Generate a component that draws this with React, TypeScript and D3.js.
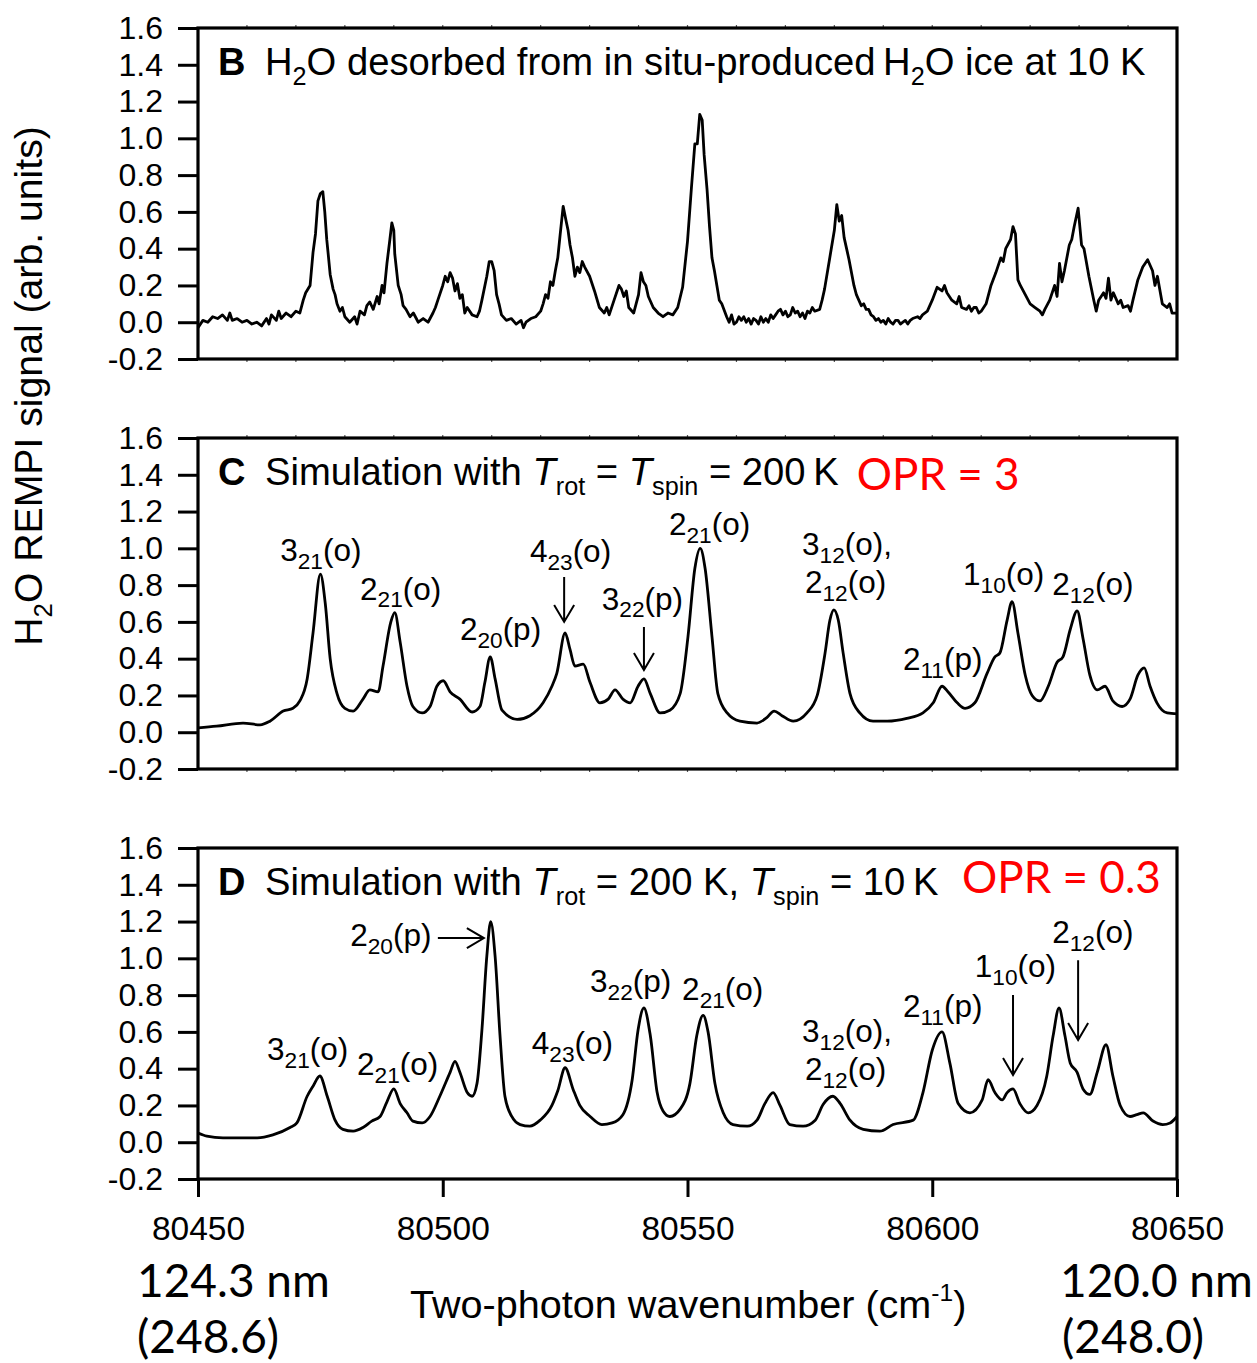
import React, { useEffect, useRef } from 'react';
import * as d3 from 'd3';

// wavenumber (cm-1), signal
const specB: [number, number][] = [
  [80450, -0.03], [80451, 0.01], [80452, 0.0], [80453, 0.03], [80454, 0.02], [80455, 0.04], [80456, 0.01],
  [80456.5, 0.05], [80457, 0.01], [80458, 0.02], [80459, 0.0], [80460, 0.01], [80461, -0.01], [80462, 0.0],
  [80463, -0.02], [80464, 0.02], [80464.5, -0.01], [80465, 0.04], [80466, 0.01], [80466.5, 0.06], [80467, 0.02],
  [80468, 0.05], [80469, 0.03], [80470, 0.06], [80470.8, 0.05], [80471.5, 0.12], [80472, 0.16], [80472.9, 0.2],
  [80473.5, 0.38], [80474, 0.48], [80474.5, 0.66], [80475, 0.7], [80475.5, 0.71], [80475.9, 0.6], [80476.3, 0.45],
  [80476.6, 0.37], [80477, 0.26], [80477.6, 0.18], [80478, 0.15], [80478.4, 0.1], [80479, 0.06], [80479.5, 0.08],
  [80480, 0.03], [80481, 0.0], [80482, 0.03], [80482.5, -0.01], [80483.1, 0.06], [80484, 0.04], [80484.5, 0.09],
  [80485.1, 0.11], [80485.8, 0.07], [80486.6, 0.14], [80487, 0.1], [80487.6, 0.2], [80488, 0.16], [80488.6, 0.32],
  [80489.2, 0.45], [80489.6, 0.54], [80490, 0.5], [80490.2, 0.37], [80490.9, 0.2], [80491.5, 0.15], [80491.9, 0.09],
  [80492.5, 0.07], [80493.3, 0.03], [80494, 0.05], [80495, 0.0], [80496, 0.02], [80497, 0.0], [80498, 0.05],
  [80498.5, 0.08], [80499, 0.12], [80500, 0.2], [80500.5, 0.25], [80501, 0.22], [80501.5, 0.27], [80502, 0.24],
  [80502.5, 0.17], [80503, 0.21], [80503.5, 0.13], [80504, 0.15], [80504.5, 0.05], [80505, 0.08], [80506, 0.04],
  [80507, 0.03], [80507.5, 0.06], [80508, 0.12], [80509, 0.25], [80509.5, 0.33], [80510, 0.33], [80510.5, 0.28],
  [80511, 0.15], [80511.5, 0.1], [80512, 0.04], [80513, 0.01], [80514, 0.02], [80515, -0.01], [80516, 0.01],
  [80516.5, -0.03], [80517, 0.0], [80518, 0.02], [80519, 0.03], [80520, 0.06], [80520.5, 0.1], [80521, 0.15],
  [80521.5, 0.13], [80522, 0.22], [80522.5, 0.2], [80523, 0.28], [80523.5, 0.35], [80524, 0.48], [80524.6, 0.63],
  [80525.2, 0.55], [80525.6, 0.5], [80526, 0.42], [80526.5, 0.35], [80527, 0.25], [80527.5, 0.3], [80528, 0.27],
  [80528.5, 0.33], [80529, 0.3], [80530, 0.25], [80531, 0.17], [80532, 0.08], [80533, 0.05], [80533.5, 0.08],
  [80534, 0.04], [80535, 0.12], [80536, 0.2], [80536.5, 0.18], [80537, 0.14], [80537.5, 0.17], [80538, 0.08],
  [80539, 0.05], [80539.5, 0.1], [80540, 0.15], [80540.5, 0.27], [80541, 0.22], [80541.5, 0.2], [80542, 0.14],
  [80543, 0.08], [80544, 0.05], [80545, 0.03], [80546, 0.05], [80547, 0.04], [80548, 0.08], [80549, 0.19],
  [80550, 0.44], [80550.8, 0.73], [80551.5, 0.97], [80552, 0.97], [80552.5, 1.13], [80553, 1.1], [80553.4, 0.91],
  [80554, 0.72], [80554.5, 0.52], [80555, 0.35], [80555.5, 0.28], [80556, 0.2], [80556.5, 0.12], [80557, 0.1],
  [80558, 0.03], [80558.5, 0.0], [80559, 0.04], [80559.5, -0.01], [80560, 0.0], [80560.5, 0.03], [80561, 0.01],
  [80561.5, 0.03], [80562, 0.0], [80562.5, 0.02], [80563, -0.01], [80563.5, 0.02], [80564, 0.01], [80564.5, -0.01],
  [80565, 0.03], [80565.5, 0.0], [80566, 0.02], [80566.5, 0.0], [80567, 0.04], [80567.5, 0.02], [80568, 0.04],
  [80568.5, 0.06], [80569, 0.07], [80569.5, 0.04], [80570, 0.06], [80570.5, 0.03], [80571, 0.04], [80571.5, 0.08],
  [80572, 0.05], [80572.5, 0.06], [80573, 0.03], [80573.5, 0.05], [80574, 0.02], [80574.5, 0.06], [80575, 0.05],
  [80575.5, 0.08], [80576, 0.06], [80577, 0.07], [80577.5, 0.12],
  [80578, 0.18], [80579, 0.34], [80580, 0.5], [80580.5, 0.64], [80581, 0.55], [80581.5, 0.58], [80582, 0.46],
  [80582.5, 0.4], [80583, 0.34], [80584, 0.2], [80584.5, 0.15], [80585, 0.12], [80585.5, 0.09], [80586, 0.1],
  [80586.5, 0.07], [80587, 0.07], [80587.5, 0.04], [80588, 0.03], [80588.5, 0.01], [80589, 0.02], [80589.5, 0.0],
  [80590, 0.01], [80590.5, -0.01], [80591, 0.02], [80591.5, 0.0], [80592, -0.01], [80592.5, 0.01], [80593, 0.01],
  [80593.5, -0.01], [80594, 0.0], [80594.5, 0.01], [80595, -0.01], [80595.5, 0.01],
  [80596, 0.02], [80597, 0.03], [80597.5, 0.02], [80598, 0.04], [80599, 0.06], [80600, 0.12], [80601, 0.19], [80602, 0.17],
  [80602.5, 0.2], [80603, 0.16], [80604, 0.12], [80605, 0.1], [80605.5, 0.14], [80606, 0.08], [80607, 0.07],
  [80607.5, 0.09], [80608, 0.06], [80608.5, 0.08], [80609, 0.08], [80609.5, 0.05], [80610, 0.06], [80611, 0.1],
  [80612, 0.2], [80613, 0.27], [80614, 0.35],
  [80614.5, 0.33], [80615, 0.4], [80616, 0.45], [80616.5, 0.52], [80617, 0.48], [80617.5, 0.23], [80618, 0.2],
  [80619, 0.15], [80620, 0.1], [80621, 0.08], [80622, 0.06], [80622.5, 0.04], [80623, 0.07], [80624, 0.12],
  [80625, 0.2], [80625.5, 0.14], [80626, 0.32], [80626.5, 0.22], [80627, 0.28], [80628, 0.42], [80628.5, 0.45],
  [80629, 0.52], [80629.8, 0.62], [80630.5, 0.42], [80631, 0.4], [80632, 0.25], [80633, 0.12], [80633.5, 0.06],
  [80634, 0.12], [80635, 0.16], [80635.5, 0.13], [80636, 0.24], [80636.5, 0.12], [80637, 0.16], [80638, 0.1],
  [80638.5, 0.12], [80639, 0.08], [80640, 0.09], [80640.5, 0.06], [80641, 0.12], [80642, 0.23], [80643, 0.3],
  [80644, 0.34], [80645, 0.28], [80645.5, 0.2], [80646, 0.25], [80647, 0.1], [80648, 0.08], [80648.5, 0.1],
  [80649, 0.05], [80650, 0.05],
];

const specC: [number, number][] = [
  [80450, 0.024], [80453.8, 0.033], [80459.2, 0.05], [80462.7, 0.04], [80464.7, 0.06], [80467.4, 0.115],
  [80469.4, 0.13], [80470.8, 0.17], [80472.3, 0.29], [80473.5, 0.54], [80475, 0.86], [80476, 0.7],
  [80477, 0.4], [80478.4, 0.21], [80480, 0.13], [80481.7, 0.115], [80483.7, 0.18], [80485.1, 0.23],
  [80486.8, 0.22], [80487.8, 0.36], [80489.4, 0.6], [80490.2, 0.65], [80491.3, 0.49], [80492.7, 0.25],
  [80493.9, 0.14], [80495.8, 0.105], [80497.4, 0.14], [80498.8, 0.25], [80500.1, 0.28], [80501.5, 0.22],
  [80503.5, 0.18], [80506, 0.11], [80507.6, 0.14], [80508.6, 0.27], [80509.7, 0.41], [80510.7, 0.29],
  [80512.1, 0.12], [80515.2, 0.07], [80517.8, 0.09], [80520.5, 0.16], [80522.3, 0.25], [80523.3, 0.32],
  [80525, 0.54], [80526, 0.45], [80527, 0.36], [80528.7, 0.37], [80530.1, 0.27], [80532.1, 0.16],
  [80533.8, 0.18], [80535.2, 0.23], [80536.8, 0.18], [80538.3, 0.16], [80539.9, 0.25], [80541.1, 0.29],
  [80542.4, 0.21], [80544.4, 0.105], [80546.4, 0.12], [80548.5, 0.21], [80550.1, 0.52], [80551.5, 0.89],
  [80552.6, 1.0], [80553.6, 0.89], [80555, 0.52], [80556.2, 0.21], [80558.1, 0.105], [80560.7, 0.06],
  [80564.2, 0.05], [80566.2, 0.08], [80567.7, 0.115], [80569.3, 0.09], [80571.6, 0.06], [80574.4, 0.105],
  [80576.5, 0.2], [80578.1, 0.43], [80579.1, 0.61], [80579.9, 0.665], [80580.8, 0.61], [80581.8, 0.43],
  [80583.2, 0.21], [80585.2, 0.105], [80587.9, 0.06], [80590.8, 0.06], [80594.8, 0.075], [80598.1, 0.105],
  [80600.2, 0.16], [80602, 0.25], [80603.2, 0.22], [80605.1, 0.16], [80606.7, 0.13], [80608.7, 0.16],
  [80611.2, 0.32], [80612.8, 0.41], [80613.8, 0.43], [80615.3, 0.61], [80616.3, 0.71], [80617.5, 0.54],
  [80619, 0.31], [80620.4, 0.2], [80622, 0.17], [80623.7, 0.25], [80625.5, 0.38], [80626.7, 0.41],
  [80628.2, 0.56], [80629.6, 0.66], [80630.8, 0.51], [80632.2, 0.31], [80633.7, 0.23], [80635.3, 0.25],
  [80636.9, 0.17], [80638.8, 0.14], [80640.4, 0.18], [80642, 0.31], [80643.3, 0.35], [80644.5, 0.25],
  [80645.9, 0.16], [80648, 0.105], [80650, 0.1],
];

const specD: [number, number][] = [
  [80450, 0.05], [80451.8, 0.033], [80455.1, 0.024], [80462.1, 0.024], [80465.3, 0.04], [80468.8, 0.08],
  [80470.2, 0.105], [80472.3, 0.25], [80473.5, 0.305], [80474.9, 0.36], [80476.4, 0.25], [80478, 0.12],
  [80479.6, 0.07], [80481.7, 0.06], [80483.7, 0.08], [80485.5, 0.115], [80487.2, 0.14], [80488.6, 0.22],
  [80490, 0.29], [80491.3, 0.21], [80492.7, 0.16], [80493.9, 0.115], [80495.8, 0.105], [80497.4, 0.14],
  [80499.4, 0.25], [80501.5, 0.38], [80502.5, 0.44], [80503.5, 0.38], [80505, 0.27], [80506, 0.25],
  [80507, 0.32], [80508, 0.61], [80509, 1.01], [80509.8, 1.2], [80510.7, 1.01], [80511.7, 0.58],
  [80512.7, 0.25], [80514.1, 0.14], [80515.8, 0.096], [80517.8, 0.087], [80519.9, 0.12], [80522.3, 0.2],
  [80523.5, 0.28], [80525, 0.405], [80526.6, 0.29], [80528, 0.2], [80530.1, 0.14], [80532.5, 0.096],
  [80534.6, 0.105], [80536.8, 0.15], [80538.7, 0.34], [80539.9, 0.61], [80541.1, 0.73], [80542.4, 0.58],
  [80543.8, 0.27], [80545, 0.17], [80546.4, 0.14], [80548.5, 0.18], [80550.5, 0.32], [80551.9, 0.58],
  [80553.2, 0.69], [80554.2, 0.6], [80555.6, 0.32], [80557.3, 0.16], [80559.3, 0.096], [80562.2, 0.087],
  [80564.2, 0.12], [80565.8, 0.21], [80567.5, 0.27], [80568.9, 0.2], [80570.9, 0.096], [80573.6, 0.087],
  [80576.1, 0.12], [80577.7, 0.205], [80579.7, 0.25], [80581.2, 0.21], [80583.2, 0.12], [80585.9, 0.07],
  [80589.3, 0.06], [80592, 0.096], [80596.1, 0.12], [80598.1, 0.27], [80600, 0.5], [80602, 0.6],
  [80603.6, 0.43], [80605.3, 0.21], [80607.7, 0.16], [80610.2, 0.23], [80611.4, 0.34], [80612.8, 0.27],
  [80614.3, 0.23], [80615.3, 0.27], [80616.5, 0.29], [80617.9, 0.21], [80619.6, 0.16], [80621.4, 0.2],
  [80623.4, 0.36], [80624.7, 0.58], [80625.9, 0.73], [80627.1, 0.58], [80628.2, 0.43], [80629.6, 0.38],
  [80630.8, 0.29], [80632.2, 0.26], [80633.7, 0.38], [80635.5, 0.53], [80636.9, 0.36], [80638.4, 0.2],
  [80640.4, 0.14], [80641.8, 0.15], [80643.1, 0.16], [80645.1, 0.115], [80647.1, 0.096], [80648.6, 0.105],
  [80650, 0.14],
];

const xTicks = [80450, 80500, 80550, 80600, 80650];
const yTicks = [-0.2, 0, 0.2, 0.4, 0.6, 0.8, 1.0, 1.2, 1.4, 1.6];

// state labels: level, subscript, symmetry; x/y in data units (start, baseline)
const labelsC = [
  { x: 80466.8, y: 0.93, n: '3', s: '21', p: '(o)' },
  { x: 80483.1, y: 0.72, n: '2', s: '21', p: '(o)' },
  { x: 80503.5, y: 0.5, n: '2', s: '20', p: '(p)' },
  { x: 80517.8, y: 0.925, n: '4', s: '23', p: '(o)' },
  { x: 80532.5, y: 0.665, n: '3', s: '22', p: '(p)' },
  { x: 80546.2, y: 1.072, n: '2', s: '21', p: '(o)' },
  { x: 80573.4, y: 0.963, n: '3', s: '12', p: '(o),' },
  { x: 80574.0, y: 0.757, n: '2', s: '12', p: '(o)' },
  { x: 80594.0, y: 0.338, n: '2', s: '11', p: '(p)' },
  { x: 80606.3, y: 0.8, n: '1', s: '10', p: '(o)' },
  { x: 80624.5, y: 0.746, n: '2', s: '12', p: '(o)' },
];
const arrowsC = [
  { x1: 80524.8, y1: 0.844, x2: 80524.8, y2: 0.6 },
  { x1: 80541.1, y1: 0.572, x2: 80541.1, y2: 0.338 },
];

const labelsD = [
  { x: 80464.1, y: 0.447, n: '3', s: '21', p: '(o)' },
  { x: 80482.5, y: 0.365, n: '2', s: '21', p: '(o)' },
  { x: 80481.1, y: 1.067, n: '2', s: '20', p: '(p)' },
  { x: 80518.2, y: 0.48, n: '4', s: '23', p: '(o)' },
  { x: 80530.1, y: 0.817, n: '3', s: '22', p: '(p)' },
  { x: 80548.9, y: 0.773, n: '2', s: '21', p: '(o)' },
  { x: 80573.4, y: 0.545, n: '3', s: '12', p: '(o),' },
  { x: 80574.0, y: 0.338, n: '2', s: '12', p: '(o)' },
  { x: 80594.0, y: 0.68, n: '2', s: '11', p: '(p)' },
  { x: 80608.7, y: 0.898, n: '1', s: '10', p: '(o)' },
  { x: 80624.5, y: 1.083, n: '2', s: '12', p: '(o)' },
];
const arrowsD = [
  { x1: 80499.0, y1: 1.11, x2: 80508.4, y2: 1.11 },
  { x1: 80616.5, y1: 0.8, x2: 80616.5, y2: 0.365 },
  { x1: 80629.8, y1: 0.99, x2: 80629.8, y2: 0.556 },
];

const SANS = "'Liberation Sans', Arial, Helvetica, sans-serif";
const CAL = "Lato, 'Open Sans', sans-serif";

type Part = { t: string; sub?: boolean; sup?: boolean; it?: boolean; b?: boolean };

function rich(sel: any, x: number, y: number, parts: Part[], size: number, o: any = {}) {
  const t = sel.append('text')
    .attr('x', x).attr('y', y)
    .attr('font-family', o.family || SANS)
    .attr('font-size', size)
    .attr('fill', o.fill || '#000')
    .attr('text-anchor', o.anchor || 'start')
    .style('white-space', 'pre');
  if (o.transform) t.attr('transform', o.transform);
  let shift = 0;
  parts.forEach(p => {
    const target = p.sub ? size * (o.subShift ?? 0.24) : p.sup ? -size * 0.42 : 0;
    const ts = t.append('tspan').text(p.t);
    if (target !== shift) ts.attr('dy', target - shift);
    shift = target;
    if (p.sub || p.sup) ts.attr('font-size', size * (o.subScale ?? 0.7));
    if (p.it) ts.attr('font-style', 'italic');
    if (p.b) ts.attr('font-weight', 'bold');
  });
  return t;
}

const App = () => {
  const svgRef = useRef<SVGSVGElement>(null);
  const width = 1257, height = 1363;

  useEffect(() => {
    if (!svgRef.current) return;
    const svg = d3.select(svgRef.current);
    svg.selectAll('*').remove();

    const left = 198, right = 1177, ph = 331;
    const tops = [28, 438, 848];
    const x = d3.scaleLinear().domain([80450, 80650]).range([left, right]);

    const panels = [
      {
        data: specB, letter: 'B', curve: d3.curveLinear,
        title: [{ t: 'H' }, { t: '2', sub: true }, { t: 'O desorbed from in situ-produced\u2009H' }, { t: '2', sub: true }, { t: 'O ice at 10 K' }],
        opr: '', labels: [], arrows: [], oprX: 0, oprY: 0,
      },
      {
        data: specC, letter: 'C', curve: d3.curveMonotoneX,
        title: [{ t: 'Simulation with ' }, { t: 'T', it: true }, { t: 'rot', sub: true }, { t: ' = ' }, { t: 'T', it: true }, { t: 'spin', sub: true }, { t: ' = 200\u2009K' }],
        opr: 'OPR = 3', labels: labelsC, arrows: arrowsC, oprX: 80584.6, oprY: 1.317,
      },
      {
        data: specD, letter: 'D', curve: d3.curveMonotoneX,
        title: [{ t: 'Simulation with ' }, { t: 'T', it: true }, { t: 'rot', sub: true }, { t: ' = 200 K, ' }, { t: 'T', it: true }, { t: 'spin', sub: true }, { t: ' = 10\u2009K' }],
        opr: 'OPR = 0.3', labels: labelsD, arrows: arrowsD, oprX: 80606.1, oprY: 1.355,
      },
    ];

    panels.forEach((pn, i) => {
      const top = tops[i];
      const y = d3.scaleLinear().domain([-0.2, 1.6]).range([top + ph, top]);
      const g = svg.append('g');

      // y axis
      const yAxis = g.append('g')
        .attr('transform', `translate(${left},0)`)
        .call(d3.axisLeft(y).tickValues(yTicks).tickSize(20).tickPadding(15).tickFormat((d: any) => (+d).toFixed(1)));
      yAxis.select('.domain').remove();
      yAxis.selectAll('line').attr('stroke', '#000').attr('stroke-width', 3);
      yAxis.selectAll('text').attr('font-family', SANS).attr('font-size', 32).attr('fill', '#000');

      // minor ticks on top/bottom
      if (i < 2) {
        const minor = d3.range(80460, 80650, 10);
        g.selectAll('.mt').data(minor).join('line')
          .attr('x1', d => x(d)).attr('x2', d => x(d))
          .attr('y1', top - 3).attr('y2', top)
          .attr('stroke', '#555').attr('stroke-width', 1.2);
        g.selectAll('.mb').data(minor).join('line')
          .attr('x1', d => x(d)).attr('x2', d => x(d))
          .attr('y1', top + ph).attr('y2', top + ph + 3)
          .attr('stroke', '#555').attr('stroke-width', 1.2);
      }

      // x axis on last panel
      if (i === 2) {
        const xAxis = g.append('g')
          .attr('transform', `translate(0,${top + ph})`)
          .call(d3.axisBottom(x).tickValues(xTicks).tickSize(18).tickPadding(19).tickFormat((d: any) => String(d)));
        xAxis.select('.domain').remove();
        xAxis.selectAll('line').attr('stroke', '#000').attr('stroke-width', 3);
        xAxis.selectAll('text').attr('font-family', SANS).attr('font-size', 33.5).attr('fill', '#000');
      }

      // spectrum
      const line = d3.line<[number, number]>()
        .x(d => x(d[0])).y(d => y(d[1])).curve(pn.curve);
      g.append('path')
        .datum(pn.data)
        .attr('d', line as any)
        .attr('fill', 'none')
        .attr('stroke', '#000')
        .attr('stroke-width', 2.8)
        .attr('stroke-linejoin', 'round');

      // frame
      g.append('rect')
        .attr('x', left).attr('y', top)
        .attr('width', right - left).attr('height', ph)
        .attr('fill', 'none').attr('stroke', '#000').attr('stroke-width', 3.2);

      // title
      const ty = top + 47;
      rich(g, 218, ty, [{ t: pn.letter, b: true }], 38);
      rich(g, 265, ty, pn.title as Part[], 38.2, { subScale: 0.66, subShift: 0.25 });
      if (pn.opr) {
        rich(g, x(pn.oprX), y(pn.oprY), [{ t: pn.opr }], 44, { family: CAL, fill: '#ff0000' });
      }

      // state labels
      pn.labels.forEach((l: any) => {
        rich(g, x(l.x), y(l.y), [{ t: l.n }, { t: l.s, sub: true }, { t: l.p }], 31.5, { subScale: 0.72, subShift: 0.24 });
      });

      // arrows
      pn.arrows.forEach((a: any) => {
        const x1 = x(a.x1), y1 = y(a.y1), x2 = x(a.x2), y2 = y(a.y2);
        const len = Math.hypot(x2 - x1, y2 - y1);
        const ux = (x2 - x1) / len, uy = (y2 - y1) / len;
        const hl = 17, hw = 10;
        const bx = x2 - ux * hl, by = y2 - uy * hl;
        const p = d3.path();
        p.moveTo(x1, y1); p.lineTo(x2, y2);
        p.moveTo(bx - uy * hw, by + ux * hw); p.lineTo(x2, y2); p.lineTo(bx + uy * hw, by - ux * hw);
        g.append('path').attr('d', p.toString())
          .attr('fill', 'none').attr('stroke', '#000').attr('stroke-width', 2);
      });
    });

    // y label
    rich(svg, 42, 386, [{ t: 'H' }, { t: '2', sub: true }, { t: 'O REMPI signal (arb. units)' }], 39.2,
      { anchor: 'middle', transform: 'rotate(-90,42,386)', subScale: 0.66, subShift: 0.25 });

    // x label
    rich(svg, 410, 1318, [{ t: 'Two-photon wavenumber (cm' }, { t: '-1', sup: true }, { t: ')' }], 39.6,
      { subScale: 0.62 });

    // wavelength notes
    rich(svg, 137, 1297, [{ t: '124.3 nm' }], 46, { family: CAL });
    rich(svg, 137, 1353, [{ t: '(248.6)' }], 46, { family: CAL });
    rich(svg, 1060, 1297, [{ t: '120.0 nm' }], 46, { family: CAL });
    rich(svg, 1062, 1353, [{ t: '(248.0)' }], 46, { family: CAL });
  }, []);

  return (
    <svg
      ref={svgRef}
      width={width}
      height={height}
      style={{ position: 'absolute', left: 0, top: 0, background: '#fff' }}
    />
  );
};

export default App;
